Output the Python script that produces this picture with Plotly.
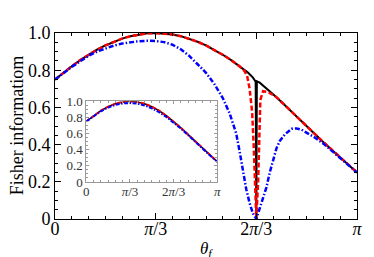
import plotly.graph_objects as go

# ---------------- data (angles in degrees, theta_f) ----------------
black_theta = [0, 5, 10, 15, 20, 25, 30, 35, 40, 45, 50, 55, 60, 65, 70, 75, 80, 85, 90,
               95, 100, 105, 110, 115, 118, 119.6, 120, 120.3, 122, 125, 130, 135, 140,
               145, 150, 155, 160, 165, 170, 175, 180]
black_F = [0.750, 0.787, 0.821, 0.854, 0.883, 0.910, 0.933, 0.953, 0.970, 0.983, 0.992,
           0.998, 1.000, 0.998, 0.992, 0.983, 0.970, 0.953, 0.933, 0.910, 0.883, 0.854,
           0.821, 0.787, 0.760, 0.738, 0.0, 0.740, 0.733, 0.711, 0.671, 0.629, 0.587,
           0.544, 0.500, 0.456, 0.413, 0.371, 0.329, 0.289, 0.250]

red_theta = [0, 5, 10, 15, 20, 25, 30, 35, 40, 45, 50, 55, 60, 65, 70, 75, 80, 85, 90,
             95, 100, 105, 110, 113, 114.5, 116, 117.5, 118.4, 119.3, 120, 121.1, 121.7,
             122.4, 124, 127, 130, 132, 135, 140, 145, 150, 155, 160, 165, 170, 175, 180]
red_F = [0.750, 0.787, 0.821, 0.854, 0.883, 0.910, 0.933, 0.953, 0.970, 0.983, 0.992,
         0.998, 1.000, 0.998, 0.992, 0.983, 0.970, 0.953, 0.933, 0.910, 0.883, 0.854,
         0.821, 0.795, 0.770, 0.700, 0.575, 0.400, 0.210, 0.0, 0.210, 0.480, 0.640,
         0.687, 0.682, 0.667, 0.655, 0.629, 0.587, 0.544, 0.500, 0.456, 0.413, 0.371,
         0.329, 0.289, 0.250]

blue_theta = [0, 5, 10, 15, 20, 25, 30, 35, 40, 45, 50, 55, 60, 65, 70, 75, 80, 85, 90,
              95, 100, 102, 104, 106, 108, 110, 112, 114, 116, 118, 120, 122, 124, 126,
              128, 130, 132, 134, 137, 141, 144, 147, 150, 155, 160, 165, 170, 175, 180]
blue_F = [0.750, 0.785, 0.818, 0.848, 0.877, 0.900, 0.918, 0.932, 0.943, 0.951, 0.956,
          0.958, 0.957, 0.951, 0.937, 0.912, 0.877, 0.832, 0.786, 0.725, 0.650, 0.610,
          0.570, 0.515, 0.460, 0.365, 0.255, 0.160, 0.085, 0.030, 0.0, 0.055, 0.115,
          0.170, 0.250, 0.320, 0.380, 0.420, 0.455, 0.485, 0.487, 0.480, 0.465, 0.437,
          0.405, 0.365, 0.326, 0.289, 0.250]

# inset
inset_theta = [0, 10, 20, 30, 40, 50, 60, 70, 80, 90, 100, 110, 120, 130, 140, 150, 160, 170, 180]
inset_black = [0.750, 0.821, 0.883, 0.933, 0.970, 0.992, 1.000, 0.992, 0.970, 0.933, 0.883,
               0.821, 0.750, 0.671, 0.587, 0.500, 0.413, 0.329, 0.250]
inset_red = [0.750, 0.821, 0.883, 0.933, 0.970, 0.992, 1.000, 0.992, 0.970, 0.933, 0.883,
             0.821, 0.750, 0.671, 0.587, 0.500, 0.413, 0.329, 0.250]
inset_blue = [0.750, 0.818, 0.876, 0.922, 0.955, 0.973, 0.978, 0.970, 0.948, 0.912, 0.864,
              0.805, 0.738, 0.662, 0.580, 0.494, 0.410, 0.327, 0.250]

x_tickvals = [0, 60, 120, 180]
x_ticktext = ["0", "<i>π</i>/3", "2<i>π</i>/3", "<i>π</i>"]
y_tickvals = [0, 0.2, 0.4, 0.6, 0.8, 1.0]
y_ticktext = ["0", "0.2", "0.4", "0.6", "0.8", "1.0"]

SERIF = "Liberation Serif, Times New Roman, serif"

fig = go.Figure()

RED_DASH = "5px,2.5px"
BLUE_DASH = "5px,2px,1.5px,2px"

fig.add_trace(go.Scatter(x=black_theta, y=black_F, mode="lines",
                         line=dict(color="black", width=2), xaxis="x", yaxis="y"))
fig.add_trace(go.Scatter(x=red_theta, y=red_F, mode="lines",
                         line=dict(color="#ff0000", width=2.5, dash=RED_DASH), xaxis="x", yaxis="y"))
fig.add_trace(go.Scatter(x=blue_theta, y=blue_F, mode="lines",
                         line=dict(color="#0000ff", width=2.5, dash=BLUE_DASH), xaxis="x", yaxis="y"))

fig.add_trace(go.Scatter(x=inset_theta, y=inset_black, mode="lines",
                         line=dict(color="black", width=1.5), xaxis="x2", yaxis="y2"))
fig.add_trace(go.Scatter(x=inset_theta, y=inset_red, mode="lines",
                         line=dict(color="#ff0000", width=2, dash="4px,2px"), xaxis="x2", yaxis="y2"))
fig.add_trace(go.Scatter(x=inset_theta, y=inset_blue, mode="lines",
                         line=dict(color="#0000ff", width=2, dash="4px,1.5px,1.5px,1.5px"),
                         xaxis="x2", yaxis="y2"))

main_axis = dict(showline=True, linecolor="black", linewidth=1, mirror="ticks",
                 ticks="inside", ticklen=6, tickcolor="black", tickwidth=1,
                 showgrid=False, zeroline=False,
                 tickfont=dict(family=SERIF, size=18, color="black"))

fig.update_layout(
    width=374, height=257,
    margin=dict(l=47, r=25, t=25, b=46, autoexpand=False),
    paper_bgcolor="white", plot_bgcolor="white",
    showlegend=False,
    xaxis=dict(main_axis, range=[0, 180], tickmode="array", tickvals=x_tickvals,
               ticktext=x_ticktext, domain=[0, 1], ticklabelstandoff=-7,
               minor=dict(ticks="inside", dtick=10, tick0=0, ticklen=3,
                          tickcolor="black", showgrid=False)),
    yaxis=dict(main_axis, range=[0, 1.0], tickmode="array", tickvals=y_tickvals,
               ticktext=y_ticktext, domain=[0, 1],
               minor=dict(ticks="inside", dtick=0.05, tick0=0, ticklen=3,
                          tickcolor="black", showgrid=False)),
    xaxis2=dict(showline=True, linecolor="#999999", linewidth=1, mirror="ticks",
                ticks="inside", ticklen=3, tickcolor="#999999",
                showgrid=False, zeroline=False, anchor="y2",
                range=[0, 180], tickmode="array", tickvals=x_tickvals, ticktext=x_ticktext,
                domain=[0.1036, 0.5374], ticklabelstandoff=-3,
                tickfont=dict(family=SERIF, size=13, color="#333333"),
                minor=dict(ticks="inside", dtick=10, tick0=0, ticklen=2,
                           tickcolor="#999999", showgrid=False)),
    yaxis2=dict(showline=True, linecolor="#999999", linewidth=1, mirror="ticks",
                ticks="inside", ticklen=3, tickcolor="#999999",
                showgrid=False, zeroline=False, anchor="x2",
                range=[0, 1.0], tickmode="array", tickvals=y_tickvals, ticktext=y_ticktext,
                domain=[0.199, 0.633],
                tickfont=dict(family=SERIF, size=13, color="#333333"),
                minor=dict(ticks="inside", dtick=0.05, tick0=0, ticklen=2,
                           tickcolor="#999999", showgrid=False)),
    annotations=[
        dict(text="Fisher informatiom", xref="paper", yref="paper", x=-0.125, y=0.5,
             textangle=-90, showarrow=False, xanchor="center", yanchor="middle",
             font=dict(family=SERIF, size=18, color="black")),
        dict(text="<i>θ<sub>f</sub></i>", xref="paper", yref="paper", x=0.5, y=-0.165,
             showarrow=False, xanchor="center", yanchor="middle",
             font=dict(family=SERIF, size=17, color="black")),
    ],
)

fig.write_html("out.html")
